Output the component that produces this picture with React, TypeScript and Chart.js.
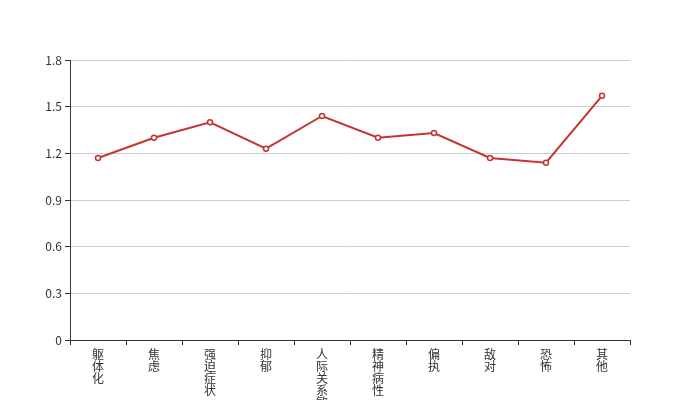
import React, { useEffect, useRef } from "react";
import { Chart, registerables } from "chart.js";

Chart.register(...registerables);

const categories: string[] = ["躯体化", "焦虑", "强迫症状", "抑郁", "人际关系敏感", "精神病性", "偏执", "敌对", "恐怖", "其他"];
const values: number[] = [1.17, 1.3, 1.4, 1.23, 1.44, 1.3, 1.33, 1.17, 1.14, 1.57];
const yMin = 0;
const yMax = 1.8;
const yStep = 0.3;

const FONT = "'Noto Sans CJK SC', 'Noto Sans', sans-serif";

export default function App() {
  const ref = useRef<HTMLCanvasElement | null>(null);

  useEffect(() => {
    if (!ref.current) return;
    const chart = new Chart(ref.current, {
      type: "line",
      data: {
        labels: categories.map((c) => c.split("")),
        datasets: [
          {
            data: values,
            borderColor: "#c23531",
            backgroundColor: "#ffffff",
            borderWidth: 2,
            pointRadius: 2.5,
            pointBorderWidth: 1.5,
            pointBackgroundColor: "#ffffff",
            pointBorderColor: "#c23531",
            tension: 0,
            fill: false,
          },
        ],
      },
      options: {
        responsive: false,
        animation: false,
        layout: { padding: { top: 60, right: 70, bottom: 0, left: 0 } },
        plugins: { legend: { display: false }, tooltip: { enabled: false } },
        scales: {
          x: {
            type: "category",
            offset: true,
            grid: {
              offset: true,
              drawOnChartArea: false,
              drawTicks: true,
              tickLength: 5,
              tickColor: "#333",
            },
            border: { color: "#333", width: 1 },
            ticks: {
              color: "#333",
              font: { size: 12, family: FONT, lineHeight: 1 },
              padding: 3,
              maxRotation: 0,
              minRotation: 0,
              autoSkip: false,
            },
            afterFit: (s: any) => {
              s.height = 60;
            },
          },
          y: {
            min: yMin,
            max: yMax,
            grid: {
              color: "#ccc",
              tickColor: "#333",
              tickLength: 5,
              drawTicks: true,
            },
            border: { color: "#333", width: 1 },
            ticks: {
              stepSize: yStep,
              color: "#333",
              font: { size: 12, family: FONT },
              padding: 3,
              callback: (v: any) => String(Number(Number(v).toFixed(1))),
            },
            afterFit: (s: any) => {
              s.width = 70;
            },
          },
        },
      },
    });
    return () => chart.destroy();
  }, []);

  return (
    <div style={{ position: "absolute", left: 0, top: 0, width: 700, height: 400, background: "#fff" }}>
      <canvas ref={ref} width={700} height={400} />
    </div>
  );
}
